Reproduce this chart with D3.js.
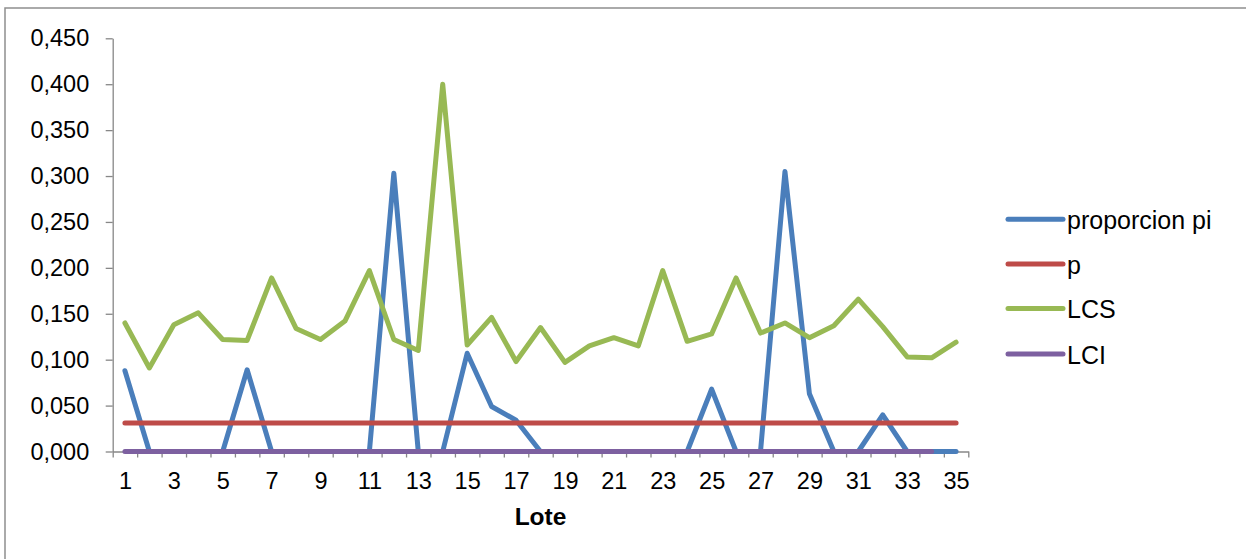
<!DOCTYPE html>
<html>
<head>
<meta charset="utf-8">
<script src="https://cdn.jsdelivr.net/npm/d3@7"></script>
<style>
  html, body { margin: 0; padding: 0; background: #fff; }
  svg { display: block; }
  text { font-family: "Liberation Sans", Arial, sans-serif; fill: #000; }
</style>
</head>
<body>
<svg id="chart" width="1246" height="559"></svg>
<script>
// ---- data ----
const lotes = [1,2,3,4,5,6,7,8,9,10,11,12,13,14,15,16,17,18,19,20,21,22,23,24,25,26,27,28,29,30,31,32,33,34,35];
const proporcionPi = [0.088,0,0,0,0,0.089,0,0,0,0,0,0.303,0,0,0.107,0.049,0.034,0,0,0,0,0,0,0,0.068,0,0,0.305,0.063,0,0,0.040,0,0,0];
const pBar = [0.031,0.031,0.031,0.031,0.031,0.031,0.031,0.031,0.031,0.031,0.031,0.031,0.031,0.031,0.031,0.031,0.031,0.031,0.031,0.031,0.031,0.031,0.031,0.031,0.031,0.031,0.031,0.031,0.031,0.031,0.031,0.031,0.031,0.031,0.031];
const lcs = [0.140,0.091,0.138,0.151,0.122,0.121,0.189,0.134,0.122,0.142,0.197,0.122,0.110,0.400,0.116,0.146,0.098,0.135,0.097,0.115,0.124,0.115,0.197,0.120,0.128,0.189,0.129,0.140,0.124,0.137,0.166,0.136,0.103,0.102,0.119];
const lci = [0,0,0,0,0,0,0,0,0,0,0,0,0,0,0,0,0,0,0,0,0,0,0,0,0,0,0,0,0,0,0,0,0,0,null];
const yTicks = [0,0.05,0.10,0.15,0.20,0.25,0.30,0.35,0.40,0.45];
const xTickLabels = [1,3,5,7,9,11,13,15,17,19,21,23,25,27,29,31,33,35];
const seriesNames = ["proporcion pi","p","LCS","LCI"];
const seriesColors = ["#4a7ebb","#be4b48","#98b954","#7d60a0"];
const xTitle = "Lote";

const series = [proporcionPi, pBar, lcs, lci];

// ---- layout ----
const svg = d3.select("#chart");
const plotLeft = 112.7, plotRight = 968.3, plotTop = 38.3, plotBottom = 451.5;

// outer frame
svg.append("rect").attr("x",5).attr("y",8).attr("width",1300).attr("height",600)
  .attr("fill","none").attr("stroke","#8e8e8e").attr("stroke-width",1.5);

const x = d3.scaleLinear().domain([0.5, lotes.length + 0.5]).range([plotLeft, plotRight]);
const y = d3.scaleLinear().domain([0, 0.45]).range([plotBottom, plotTop]);

const axisColor = "#878787";
const fontStack = "'Liberation Sans', Arial, sans-serif";

// y axis
const yAxis = svg.append("g").attr("transform", `translate(${plotLeft},0)`)
  .call(d3.axisLeft(y).tickValues(yTicks).tickSize(7).tickPadding(16.5).tickSizeOuter(0)
    .tickFormat(d => d3.format(".3f")(d).replace(".", ",")));
yAxis.select(".domain").attr("stroke", axisColor).attr("stroke-width", 1.3);
yAxis.selectAll(".tick line").attr("stroke", axisColor).attr("stroke-width", 1.3);
yAxis.selectAll("text").style("font-size","23.5px").style("font-family",fontStack).style("fill","#000");

// x axis: boundary ticks
const boundaries = d3.range(0, lotes.length + 1).map(i => i + 0.5);
const xAxis = svg.append("g").attr("transform", `translate(0,${plotBottom})`)
  .call(d3.axisBottom(x).tickValues(boundaries).tickSize(6).tickSizeOuter(0).tickFormat(""));
xAxis.select(".domain").attr("stroke", axisColor).attr("stroke-width", 1.3);
xAxis.selectAll(".tick line").attr("stroke", axisColor).attr("stroke-width", 1.3);

// x axis: labels
const xLab = svg.append("g").attr("transform", `translate(0,${plotBottom})`)
  .call(d3.axisBottom(x).tickValues(xTickLabels).tickSize(0).tickPadding(20.5).tickFormat(d => String(d)));
xLab.select(".domain").remove();
xLab.selectAll("text").style("font-size","23.5px").style("font-family",fontStack).style("fill","#000");

// x title
svg.append("text").attr("x", (plotLeft + plotRight) / 2).attr("y", 524.5)
  .attr("text-anchor","middle").style("font-size","24.5px").style("font-weight","bold").text(xTitle);

// lines
const line = d3.line()
  .defined(d => d.v !== null)
  .x(d => x(d.lote)).y(d => y(d.v));

series.forEach((vals, i) => {
  const pts = lotes.map((l, j) => ({lote: l, v: vals[j]}));
  svg.append("path").datum(pts)
    .attr("d", line)
    .attr("fill","none")
    .attr("stroke", seriesColors[i])
    .attr("stroke-width", 5)
    .attr("stroke-linejoin","round")
    .attr("stroke-linecap","round");
});

// legend
const legendY = [219.3, 264, 308.5, 354];
const lg = svg.append("g");
seriesNames.forEach((name, i) => {
  lg.append("line").attr("x1",1008).attr("x2",1063).attr("y1",legendY[i]).attr("y2",legendY[i])
    .attr("stroke", seriesColors[i]).attr("stroke-width",5).attr("stroke-linecap","round");
  lg.append("text").attr("x",1067).attr("y",legendY[i] + 9.5)
    .style("font-size","25px").text(name);
});
</script>
</body>
</html>
